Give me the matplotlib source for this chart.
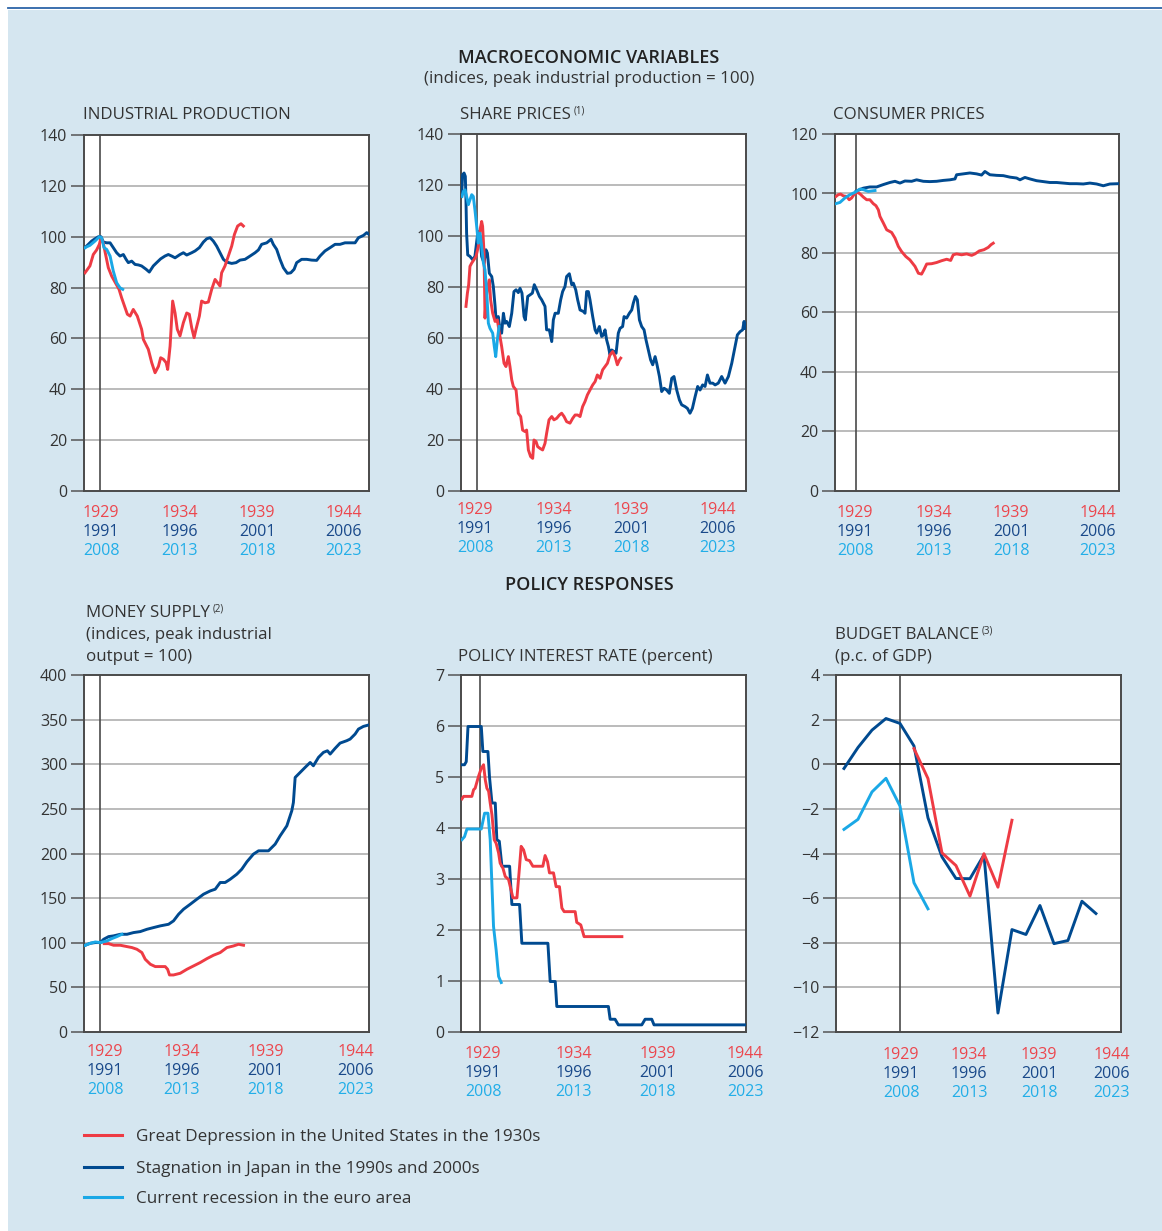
import matplotlib
matplotlib.use("Agg")
import matplotlib.pyplot as plt
from matplotlib.lines import Line2D
from matplotlib.patches import Rectangle

plt.rcParams['font.family'] = ['Open Sans', 'DejaVu Sans']

# ---------------- DATA (time axis = years relative to the pre-crisis peak) ----------------
# Industrial production
ip_us_t = [-0.94,-0.63,-0.42,-0.21,-0.04,0.06,0.2,0.52,0.73,1.19,1.35,1.71,1.88,2.08,2.33,2.6,2.71,3.02,3.23,3.44,
           3.65,3.79,3.96,4.13,4.23,4.38,4.54,4.69,4.83,5.0,5.21,5.42,5.58,5.73,5.88,6.0,6.21,6.35,6.56,6.77,
           6.98,7.19,7.35,7.5,7.6,7.81,8.02,8.23,8.4,8.6,8.81,8.96]
ip_us_v = [85.8,88.5,93,94.8,97,99.6,97.6,87.8,84.5,79.3,76,69.5,68.8,71.4,68.8,63.6,59.6,55.7,50.5,46.5,
           49,52.4,51.8,50.5,47.8,57,74.7,70,63.6,61,66.2,70,69.5,64.2,60.3,63.6,68.8,74.7,74,74.3,
           79.3,83.2,81.9,80.6,85.8,88.5,92.4,96.3,100.9,104.2,105.1,104.2]
ip_jp_t = [-0.94,-0.73,-0.52,-0.31,-0.1,0.06,0.21,0.42,0.63,0.83,1.04,1.25,1.46,1.63,1.77,1.98,2.19,2.4,2.6,2.88,
           3.08,3.33,3.54,3.79,4.06,4.27,4.48,4.69,5.0,5.21,5.42,5.73,5.94,6.21,6.46,6.67,6.88,7.08,7.29,7.5,
           7.71,7.92,8.23,8.5,8.75,9.06,9.38,9.69,9.9,10.1,10.42,10.69,10.83,11.04,11.25,11.46,11.71,11.92,12.13,12.29,
           12.6,12.92,13.23,13.54,13.75,14.06,14.38,14.69,15.0,15.31,15.63,15.94,16.15,16.46,16.67,16.81]
ip_jp_v = [95.7,97,98.3,99.2,100,100,97.9,97.6,97.6,95.7,93.7,92.4,93,91.1,89.8,90.4,89.1,88.9,88.5,87.2,
           86.1,88.5,89.8,91.3,92.4,93,92.4,91.7,93,93.7,92.8,93.7,94.4,95.7,97.9,99.2,99.6,98.3,96.3,93.7,
           91.1,90,89.5,89.8,90.8,91.1,92.4,93.7,94.8,97,97.6,99,97,95,91.1,87.8,85.6,85.8,87.2,89.8,
           91.1,91.1,90.8,90.7,92.4,94.4,95.7,97,97,97.6,97.6,97.6,99.6,100.5,101.6,100.9]
ip_ea_t = [-0.94,-0.63,-0.31,-0.04,0.1,0.25,0.42,0.63,0.83,1.04,1.25,1.42]
ip_ea_v = [95.7,96.6,98.3,100,99.6,95.7,95,92.4,86.5,81.9,79.9,79.3]

# Share prices
sp_us_t = [-0.69,-0.6,-0.52,-0.44,-0.33,-0.19,-0.06,0.08,0.19,0.29,0.35,0.44,0.5,0.56,0.67,0.77,0.85,0.98,1.13,1.27,
           1.4,1.54,1.69,1.81,1.96,2.06,2.17,2.27,2.44,2.58,2.73,2.85,3.0,3.1,3.21,3.35,3.48,3.56,3.69,3.79,
           3.94,4.1,4.25,4.35,4.5,4.67,4.81,4.98,5.15,5.29,5.44,5.6,5.81,5.98,6.13,6.29,6.44,6.6,6.75,6.9,
           7.06,7.23,7.38,7.52,7.69,7.85,8.0,8.15,8.31,8.48,8.63,8.77,8.9,8.98]
sp_us_v = [72.4,77.6,80.9,88.1,89.4,90.7,92,95.9,102.4,105.7,103.8,93.3,67.8,75,80.2,82.8,75,69.7,66.5,67.1,
           61.9,56.7,50.1,48.8,52.7,48.8,43.6,41,39.6,30.5,29.2,23.9,23.3,23.9,16.1,13.5,12.8,20,19.4,17.4,
           16.7,16.1,18.7,22.6,27.9,29.2,27.9,28.5,29.8,30.5,29.2,27.2,26.6,28.5,29.8,29.8,29.2,33.1,35.1,37.7,
           39.6,41.6,42.9,45.5,44.2,47.5,48.8,50.1,53.4,54.7,52.7,49.5,51.4,52.1]
sp_jp_t = [-0.96,-0.9,-0.81,-0.73,-0.69,-0.65,-0.58,-0.44,-0.27,-0.13,0.02,0.1,0.19,0.29,0.44,0.56,0.65,0.77,0.92,1.02,
           1.13,1.19,1.33,1.44,1.54,1.65,1.75,1.85,2.02,2.17,2.31,2.44,2.58,2.69,2.81,2.94,3.02,3.17,3.31,3.46,
           3.58,3.73,3.9,4.04,4.25,4.35,4.52,4.67,4.77,4.88,5.08,5.23,5.35,5.5,5.6,5.77,5.92,6.02,6.17,6.29,
           6.44,6.65,6.75,6.85,6.96,7.06,7.23,7.38,7.48,7.65,7.79,7.9,8.0,8.1,8.21,8.31,8.42,8.56,8.69,8.83,
           8.94,9.1,9.19,9.35,9.52,9.67,9.77,9.9,10.02,10.15,10.29,10.44,10.56,10.71,10.85,10.98,11.13,11.23,11.4,11.54,
           11.69,11.85,12.02,12.17,12.31,12.48,12.65,12.79,13.0,13.15,13.31,13.46,13.63,13.79,13.94,14.1,14.25,14.4,14.56,14.73,
           14.88,15.08,15.29,15.5,15.71,15.92,16.13,16.27,16.44,16.6,16.69,16.75]
sp_jp_v = [115.5,124,124.7,123.4,114.2,101.1,92.6,92,90.7,92,99.8,101.8,99.8,92,89.4,94.6,93.3,85.4,84.1,80.2,
           72.4,67.1,68.4,63.2,61.9,69.7,65.8,66.5,64.5,69.7,78.2,78.9,77.8,79.5,77.6,68.4,67.1,76.3,76.9,77.6,
           80.9,78.9,76.3,75,72.4,63.2,63.2,58.6,67.1,69.7,69.7,75,78.2,80.2,84.1,85.2,80.9,81.5,78.9,75,
           71,70.4,69.7,78.2,78.2,75,68.4,63.2,61.9,64.5,60.6,61.2,63.2,59.3,56.7,53.4,55.3,54.7,54,61.9,
           63.8,64.5,68.4,67.8,69.7,71,73.7,76.3,75,67.1,64.5,63.2,59.3,55.3,51.4,49.5,52.7,50.1,44.9,39,
           40.3,39.6,38.3,44.2,44.9,39.6,35.7,33.8,33.1,32.4,30.5,32.4,37,41,39.6,41.6,41,45.5,42.3,42.3,
           41.6,42.3,44.9,42.3,44.9,50.1,56.7,61.2,62.5,63.2,66.5,63.8]
sp_ea_t = [-0.94,-0.85,-0.75,-0.65,-0.54,-0.44,-0.33,-0.23,-0.13,-0.02,0.08,0.19,0.29,0.4,0.5,0.6,0.71,0.81,0.98,1.08,
           1.17,1.27,1.38]
sp_ea_v = [115.5,117.5,118.1,115.5,112.3,114.2,116.2,115.5,110.3,103.8,97.2,101.1,95.9,89.4,86.7,78.9,65.8,63.8,61.9,56.7,
           52.7,59.3,64.5]

# Consumer prices
cp_us_t = [-1.27,-1.13,-0.98,-0.81,-0.6,-0.44,-0.29,-0.15,0.06,0.23,0.44,0.65,0.85,1.06,1.23,1.38,1.48,1.69,1.9,2.21,
           2.42,2.63,2.83,3.1,3.35,3.67,3.88,4.08,4.23,4.4,4.71,5.02,5.33,5.65,5.9,6.06,6.27,6.58,6.9,7.21,
           7.42,7.69,7.98,8.25,8.42,8.56]
cp_us_v = [99,99.6,99.8,99.2,99,97.9,98.5,99.6,100.4,99.9,98.8,97.9,97.9,96.6,95.9,94.5,92.3,90.1,87.8,86.9,
           85,82.2,80.5,78.8,77.7,75.5,73.2,72.9,74.4,76.3,76.4,76.8,77.4,77.9,77.5,79.4,79.7,79.4,79.7,79.2,
           79.7,80.7,81.1,81.9,82.8,83.3]
cp_jp_t = [0.0,0.44,0.85,1.27,1.69,2.1,2.42,2.73,3.04,3.46,3.77,4.19,4.6,5.02,5.44,5.85,6.17,6.27,6.69,7.1,
           7.52,7.83,8.04,8.35,8.77,9.19,9.6,10.02,10.23,10.54,10.85,11.27,11.69,12.1,12.52,12.94,13.35,13.77,14.19,14.6,
           15.02,15.44,15.85,16.38]
cp_jp_v = [100.8,101.8,102.2,102.2,103,103.7,104.1,103.5,104.2,104.1,104.6,104.1,104,104.1,104.4,104.6,104.9,106.3,106.6,106.9,
           106.6,106.2,107.4,106.3,106.1,106,105.5,105.2,104.6,105.4,104.9,104.3,104,103.7,103.7,103.5,103.3,103.3,103.2,103.5,
           103.2,102.6,103.2,103.3]
cp_ea_t = [-1.27,-1.02,-0.71,-0.4,-0.08,0.23,0.44,0.75,1.17]
cp_ea_v = [96.6,97,98.5,99.6,100.4,101.5,101.3,100.7,101]

# Money supply
ms_us_t = [0.25,0.52,0.83,1.25,1.67,1.98,2.29,2.6,2.81,3.13,3.44,3.75,4.06,4.21,4.33,4.58,5.0,5.42,5.83,6.25,
           6.67,7.08,7.5,7.92,8.33,8.65,8.96]
ms_us_v = [99,99,97.2,97.2,95.7,94.6,92.7,89,81.5,75.9,73.3,73.3,73.3,70.3,63.9,63.9,65.8,70.3,74,77.8,
           82.2,86,89,94.6,96.4,98.3,97.2]
ms_jp_t = [-0.94,-0.63,-0.31,0.0,0.21,0.52,0.83,1.25,1.67,2.08,2.5,2.92,3.33,3.75,4.27,4.58,4.9,5.21,5.63,6.04,
           6.46,6.88,7.19,7.5,7.81,8.13,8.54,8.85,9.17,9.58,9.9,10.21,10.52,10.94,11.25,11.67,11.98,12.08,12.19,12.5,
           12.81,13.13,13.33,13.65,13.96,14.21,14.38,14.69,15.0,15.42,15.63,15.94,16.15,16.46,16.77]
ms_jp_v = [97.2,99.4,100.2,100.2,103.9,106.9,107.7,109.5,109.5,111.4,112.5,115.1,117,118.9,120.7,124.5,132,137.6,143.2,148.8,
           154.4,158.1,160,167.5,167.5,171.2,176.8,182.4,190.7,199.3,203,203,203,210.5,219.8,231,247.9,257.2,285.2,290.8,
           296.4,302,298.3,307.7,313.3,315.1,311.4,317.8,323.7,326.4,328.2,333.8,339.4,342.4,343.9]
ms_ea_t = [-0.94,-0.63,-0.31,0.0,0.42,0.73,1.04,1.35]
ms_ea_v = [97.2,99.4,100.9,100.2,102,104.7,106.9,109.5]

# Policy interest rate (percent)
ir_us_t = [-1.05,-0.95,-0.48,-0.38,-0.29,-0.1,0.06,0.19,0.29,0.38,0.48,0.57,0.67,0.8,0.91,1.05,1.14,1.3,1.43,1.62,
           1.87,2.1,2.25,2.34,2.48,2.63,2.82,3.01,3.58,3.71,3.85,3.96,4.19,4.34,4.53,4.67,4.8,5.43,5.52,5.75,
           5.94,8.1]
ir_us_v = [4.57,4.62,4.62,4.75,4.78,5.01,5.17,5.24,4.94,4.78,4.72,4.49,4.26,3.77,3.7,3.51,3.31,3.21,3.05,2.99,
           2.63,2.63,3.25,3.64,3.57,3.38,3.36,3.25,3.25,3.46,3.34,3.12,3.12,2.85,2.85,2.43,2.36,2.36,2.15,2.1,
           1.87,1.87]
ir_jp_t = [-1.05,-0.9,-0.8,-0.7,0.06,0.15,0.44,0.53,0.67,0.86,0.95,1.09,1.24,1.68,1.81,2.25,2.38,3.87,4.0,4.29,
           4.38,7.33,7.43,7.71,7.9,9.24,9.43,9.81,9.94,15.14]
ir_jp_v = [5.24,5.24,5.3,5.99,5.99,5.5,5.5,5.0,4.49,4.49,3.77,3.74,3.25,3.25,2.5,2.5,1.74,1.74,0.99,0.99,
           0.5,0.5,0.25,0.25,0.14,0.14,0.25,0.25,0.14,0.14]
ir_ea_t = [-1.05,-0.9,-0.76,0.06,0.25,0.44,0.57,0.76,0.91,1.05,1.2]
ir_ea_v = [3.77,3.83,3.98,3.98,4.29,4.29,3.77,2.07,1.61,1.09,0.97]

# Budget balance (percent of GDP), annual
bb_us_t = [1,2,3,4,5,6,7,8]
bb_us_v = [0.7,-0.64,-3.97,-4.54,-5.91,-4.01,-5.51,-2.51]
bb_jp_t = [-4,-3,-2,-1,0,1,2,3,4,5,6,7,8,9,10,11,12,13,14]
bb_jp_v = [-0.19,0.75,1.53,2.05,1.83,0.82,-2.40,-4.15,-5.12,-5.13,-4.06,-11.15,-7.41,-7.63,-6.33,-8.04,-7.90,-6.14,-6.69]
bb_ea_t = [-4,-3,-2,-1,0,1,2]
bb_ea_v = [-2.92,-2.47,-1.24,-0.63,-1.87,-5.31,-6.48]

# Axis labels
year_rows = [["1929", "1934", "1939", "1944"],
             ["1991", "1996", "2001", "2006"],
             ["2008", "2013", "2018", "2023"]]
legend_labels = ["Great Depression in the United States in the 1930s",
                 "Stagnation in Japan in the 1990s and 2000s",
                 "Current recession in the euro area"]

# ---------------- STYLE ----------------
RED = '#ee3b44'
DBLUE = '#004a90'
LBLUE = '#1aa8e6'
ROWCOL = ['#ec474e', '#19498a', '#22aee8']
BG = '#d5e6f0'
TXT = '#333333'
FS_TICK = 11.5
FS_YEAR = 11.5
FS_TITLE = 12.2
FS_HEAD = 13.0
FS_LEG = 12.3
DY = 1.8   # vertical text nudge (pixels)

W, H = 1162, 1231
fig = plt.figure(figsize=(W / 100, H / 100), dpi=100)
fig.patch.set_facecolor('white')
fig.add_artist(Rectangle((8 / W, 0), (W - 8) / W, (H - 9.5) / H, transform=fig.transFigure,
                         facecolor=BG, edgecolor='none', zorder=0))
fig.add_artist(Line2D([8 / W, 1], [1 - 8.3 / H, 1 - 8.3 / H], transform=fig.transFigure,
                      color='#2c64a8', lw=1.3))


def fy(y):
    return 1 - (y + DY) / H


def make_ax(l, t, r, b, xlim, ylim, yticks):
    ax = fig.add_axes([l / W, 1 - b / H, (r - l) / W, (b - t) / H])
    ax.set_facecolor('white')
    ax.set_xlim(*xlim)
    ax.set_ylim(*ylim)
    ax.set_xticks([])
    ax.set_yticks(yticks)
    ax.tick_params(axis='y', direction='out', length=9.5, width=1.1, color='#555555',
                   labelsize=FS_TICK, labelcolor=TXT, pad=2.5)
    for sp in ax.spines.values():
        sp.set_color('#4a4a4a')
        sp.set_linewidth(1.4)
    for y in yticks[1:-1]:
        ax.axhline(y, color='#a8a8a8', lw=1.1, zorder=1)
    ax.axvline(0, color='#4a4a4a', lw=1.2, zorder=2)
    return ax


def year_labels(b, xs_px, off, step=19):
    for i, xp in enumerate(xs_px):
        for j in range(3):
            fig.text(xp / W, fy(b + off + j * step - 1), year_rows[j][i], color=ROWCOL[j],
                     ha='center', va='center', fontsize=FS_YEAR)


def title_with_sup(x, y, text, sup=None, size=FS_TITLE):
    t = fig.text(x / W, fy(y), text, ha='left', va='center', fontsize=size, color=TXT)
    if sup:
        fig.canvas.draw()
        bb = t.get_window_extent(renderer=fig.canvas.get_renderer())
        fig.text((bb.x1 + 3) / W, fy(y - 4), sup, ha='left', va='center', fontsize=7, color=TXT)


LW = 2.1

# Panel 1: Industrial production
ax1 = make_ax(84, 135, 369, 491, (-1.0, 16.81), (0, 140), [0, 20, 40, 60, 80, 100, 120, 140])
ax1.plot(ip_jp_t, ip_jp_v, color=DBLUE, lw=LW, zorder=3)
ax1.plot(ip_us_t, ip_us_v, color=RED, lw=LW, zorder=4)
ax1.plot(ip_ea_t, ip_ea_v, color=LBLUE, lw=LW, zorder=5)
year_labels(491, [101, 180, 257, 344], 21)
title_with_sup(83, 113, "INDUSTRIAL PRODUCTION")

# Panel 2: Share prices
ax2 = make_ax(461, 134, 746, 491, (-1.0, 16.81), (0, 140), [0, 20, 40, 60, 80, 100, 120, 140])
ax2.plot(sp_jp_t, sp_jp_v, color=DBLUE, lw=LW, zorder=3)
ax2.plot(sp_us_t, sp_us_v, color=RED, lw=LW, zorder=4)
ax2.plot(sp_ea_t, sp_ea_v, color=LBLUE, lw=LW, zorder=5)
year_labels(491, [475, 554, 631, 718], 18.5)
title_with_sup(460, 113, "SHARE PRICES", "(1)")

# Panel 3: Consumer prices
ax3 = make_ax(835, 134, 1119, 491, (-1.33, 16.42), (0, 120), [0, 20, 40, 60, 80, 100, 120])
ax3.plot(cp_jp_t, cp_jp_v, color=DBLUE, lw=LW, zorder=3)
ax3.plot(cp_us_t, cp_us_v, color=RED, lw=LW, zorder=4)
ax3.plot(cp_ea_t, cp_ea_v, color=LBLUE, lw=LW, zorder=5)
year_labels(491, [855, 934, 1011, 1098], 21)
title_with_sup(833, 113, "CONSUMER PRICES")

# Panel 4: Money supply
ax4 = make_ax(84, 675, 369, 1032, (-1.02, 16.81), (0, 400), [0, 50, 100, 150, 200, 250, 300, 350, 400])
ax4.plot(ms_jp_t, ms_jp_v, color=DBLUE, lw=LW, zorder=3)
ax4.plot(ms_us_t, ms_us_v, color=RED, lw=LW, zorder=4)
ax4.plot(ms_ea_t, ms_ea_v, color=LBLUE, lw=LW, zorder=5)
year_labels(1032, [105, 182, 266, 356], 19.5)
title_with_sup(86, 611, "MONEY SUPPLY", "(2)")
title_with_sup(86, 633, "(indices, peak industrial")
title_with_sup(86, 655, "output = 100)")

# Panel 5: Policy interest rate
ax5 = make_ax(461, 675, 746, 1032, (-1.1, 15.2), (0, 7), [0, 1, 2, 3, 4, 5, 6, 7])
ax5.plot(ir_jp_t, ir_jp_v, color=DBLUE, lw=LW, zorder=3)
ax5.plot(ir_us_t, ir_us_v, color=RED, lw=LW, zorder=4)
ax5.plot(ir_ea_t, ir_ea_v, color=LBLUE, lw=LW, zorder=5)
year_labels(1032, [483, 574, 658, 745], 21.5)
title_with_sup(458, 655, "POLICY INTEREST RATE (percent)")

# Panel 6: Budget balance
ax6 = make_ax(836, 675, 1121, 1032, (-4.57, 15.79), (-12, 4), [-12, -10, -8, -6, -4, -2, 0, 2, 4])
ax6.axhline(0, color='#222222', lw=1.3, zorder=2)
ax6.plot(bb_jp_t, bb_jp_v, color=DBLUE, lw=LW, zorder=3)
ax6.plot(bb_us_t, bb_us_v, color=RED, lw=LW, zorder=4)
ax6.plot(bb_ea_t, bb_ea_v, color=LBLUE, lw=LW, zorder=5)
year_labels(1032, [901, 969, 1039, 1112], 22)
title_with_sup(835, 633, "BUDGET BALANCE", "(3)")
title_with_sup(835, 655, "(p.c. of GDP)")

# Headings
fig.text(589 / W, fy(56), "MACROECONOMIC VARIABLES", ha='center', va='center',
         fontsize=FS_HEAD, fontweight='semibold', color='#222222')
fig.text(589 / W, fy(77), "(indices, peak industrial production = 100)", ha='center', va='center',
         fontsize=FS_TITLE, color=TXT)
fig.text(589 / W, fy(583), "POLICY RESPONSES", ha='center', va='center',
         fontsize=FS_HEAD, fontweight='semibold', color='#222222')

# Legend
for yy, col, lab in zip([1135, 1167, 1197], [RED, DBLUE, LBLUE], legend_labels):
    fig.add_artist(Line2D([84 / W, 122 / W], [1 - yy / H, 1 - yy / H], transform=fig.transFigure,
                          color=col, lw=2.2))
    fig.text(136 / W, fy(yy), lab, ha='left', va='center', fontsize=FS_LEG, color=TXT)

fig.savefig("out.png", dpi=100, facecolor=fig.get_facecolor())
